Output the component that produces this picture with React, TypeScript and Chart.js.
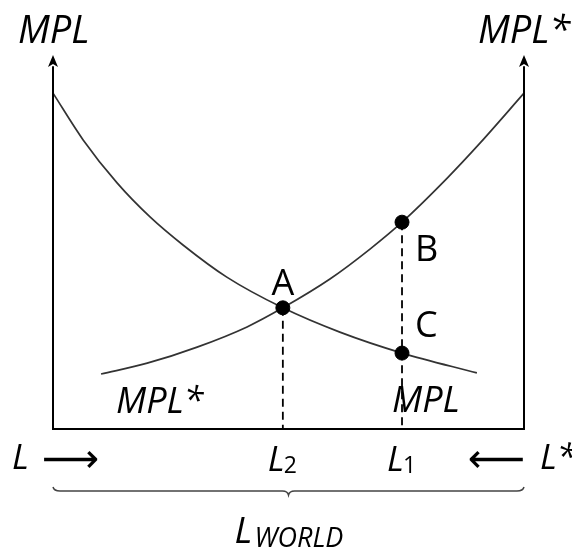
import React, { useEffect, useRef } from "react";
import { Chart, registerables } from "chart.js";

Chart.register(...registerables);

// Labour axis runs from L (left origin) to L* (right origin)
const L_MIN = 0;
const L_MAX = 10;
const Y_MAX = 10;

// Home MPL curve (falls as L rises)
const mplX = [0, 0.64, 1.36, 2.06, 2.76, 3.69, 4.88, 6.09, 7.41, 9.0];
const mplY = [8.98, 7.73, 6.58, 5.67, 4.92, 4.06, 3.24, 2.59, 2.03, 1.5];

// Foreign MPL* curve (rises as L rises, i.e. as L* falls)
const mplStarX = [1.02, 2.0, 3.06, 4.12, 4.88, 5.88, 6.73, 7.41, 8.37, 9.07, 10];
const mplStarY = [1.47, 1.76, 2.19, 2.73, 3.24, 4.01, 4.81, 5.53, 6.71, 7.65, 8.98];

// Marked points
const pointNames = ["A", "B", "C"];
const pointX = [4.88, 7.41, 7.41];
const pointY = [3.24, 5.53, 2.03];

// Allocations
const L2 = 4.88;
const L1 = 7.41;

const FONT = '"Open Sans", "DejaVu Sans", sans-serif';

const labelPlugin = {
  id: "diagramLabels",
  afterDatasetsDraw(chart: any) {
    const { ctx, chartArea: ca, scales } = chart;
    const x = scales.x;
    const y = scales.y;
    const it = (s: number) => `italic ${s}px ${FONT}`;
    const up = (s: number) => `${s}px ${FONT}`;
    ctx.save();
    ctx.fillStyle = "#000";
    ctx.strokeStyle = "#000";
    ctx.textBaseline = "alphabetic";

    // axis arrowheads
    for (const v of [L_MIN, L_MAX]) {
      const px = x.getPixelForValue(v);
      const py = y.getPixelForValue(Y_MAX);
      ctx.beginPath();
      ctx.moveTo(px, py);
      ctx.lineTo(px - 5, py + 12);
      ctx.lineTo(px, py + 9);
      ctx.lineTo(px + 5, py + 12);
      ctx.closePath();
      ctx.fill();
    }

    // top axis titles
    ctx.font = it(38);
    ctx.textAlign = "left";
    ctx.fillText("MPL", ca.left - 35, ca.top - 12);
    ctx.fillText("MPL*", ca.right - 46, ca.top - 12);

    // point labels
    const ax = x.getPixelForValue(pointX[0]);
    const ay = y.getPixelForValue(pointY[0]);
    ctx.textAlign = "center";
    ctx.font = up(36);
    ctx.fillText(pointNames[0], ax, ay - 13);
    ctx.textAlign = "left";
    ctx.fillText(pointNames[1], x.getPixelForValue(pointX[1]) + 13, y.getPixelForValue(pointY[1]) + 39);
    ctx.fillText(pointNames[2], x.getPixelForValue(pointX[2]) + 13, y.getPixelForValue(pointY[2]) - 16);

    // curve labels
    ctx.font = it(36);
    ctx.fillText("MPL*", ca.left + 63, ca.bottom - 16);
    ctx.fillText("MPL", x.getPixelForValue(L1) - 10, ca.bottom - 17);

    // bottom axis labels
    const base = ca.bottom + 40;
    ctx.font = it(35);
    ctx.fillText("L", ca.left - 41, base);
    ctx.fillText("L*", ca.right + 16, base);
    ctx.font = `40px "DejaVu Sans", sans-serif`;
    ctx.textAlign = "left";
    ctx.fillText("\u27F6", ca.left - 11, base + 3);
    ctx.textAlign = "right";
    ctx.fillText("\u27F5", ca.right + 1, base + 3);
    ctx.textAlign = "left";

    const subLabel = (v: number, sub: string) => {
      const px = x.getPixelForValue(v);
      ctx.font = it(35);
      ctx.fillText("L", px - 15, base + 2);
      ctx.font = up(23);
      ctx.fillText(sub, px + 1, base + 4);
    };
    subLabel(L2, "2");
    subLabel(L1, "1");

    // brace under the axis
    const by = ca.bottom + 62;
    const mid = (ca.left + ca.right) / 2;
    ctx.strokeStyle = "#444";
    ctx.lineWidth = 1.5;
    ctx.beginPath();
    ctx.moveTo(ca.left, by - 4);
    ctx.quadraticCurveTo(ca.left + 1, by, ca.left + 7, by);
    ctx.lineTo(mid - 6, by);
    ctx.quadraticCurveTo(mid - 1, by, mid, by + 4);
    ctx.quadraticCurveTo(mid + 1, by, mid + 6, by);
    ctx.lineTo(ca.right - 7, by);
    ctx.quadraticCurveTo(ca.right - 1, by, ca.right, by - 4);
    ctx.stroke();

    // L_WORLD
    ctx.font = it(37);
    ctx.fillText("L", mid - 54, ca.bottom + 114);
    ctx.font = it(27);
    ctx.fillText("WORLD", mid - 34, ca.bottom + 118);

    ctx.restore();
  },
};

export default function App() {
  const ref = useRef<HTMLCanvasElement | null>(null);

  useEffect(() => {
    if (!ref.current) return;
    const curveColor = "#333";
    const chart = new Chart(ref.current, {
      type: "scatter",
      data: {
        datasets: [
          {
            label: "points",
            data: pointX.map((v, i) => ({ x: v, y: pointY[i] })),
            pointRadius: 7,
            pointBackgroundColor: "#000",
            pointBorderColor: "#000",
            showLine: false,
            clip: false,
            order: 0,
          },
          {
            label: "MPL",
            data: mplX.map((v, i) => ({ x: v, y: mplY[i] })),
            showLine: true,
            borderColor: curveColor,
            borderWidth: 1.7,
            pointRadius: 0,
            cubicInterpolationMode: "monotone",
            clip: false,
            order: 2,
          },
          {
            label: "MPL*",
            data: mplStarX.map((v, i) => ({ x: v, y: mplStarY[i] })),
            showLine: true,
            borderColor: curveColor,
            borderWidth: 1.7,
            pointRadius: 0,
            cubicInterpolationMode: "monotone",
            clip: false,
            order: 2,
          },
          {
            label: "drop A",
            data: [
              { x: L2, y: pointY[0] },
              { x: L2, y: 0 },
            ],
            showLine: true,
            borderColor: "#000",
            borderWidth: 1.8,
            borderDash: [8, 5],
            pointRadius: 0,
            clip: false,
            order: 3,
          },
          {
            label: "drop B",
            data: [
              { x: L1, y: pointY[1] },
              { x: L1, y: 0 },
            ],
            showLine: true,
            borderColor: "#000",
            borderWidth: 1.8,
            borderDash: [8, 5],
            pointRadius: 0,
            clip: false,
            order: 3,
          },
          {
            label: "axes",
            data: [
              { x: L_MIN, y: Y_MAX * 0.97 },
              { x: L_MIN, y: 0 },
              { x: L_MAX, y: 0 },
              { x: L_MAX, y: Y_MAX * 0.97 },
            ],
            showLine: true,
            borderColor: "#000",
            borderWidth: 2,
            pointRadius: 0,
            clip: false,
            order: 1,
          },
        ],
      },
      options: {
        responsive: false,
        animation: false,
        devicePixelRatio: 1,
        layout: { padding: { left: 53, right: 48, top: 55, bottom: 123 } },
        scales: {
          x: { type: "linear", min: L_MIN, max: L_MAX, display: false },
          y: { type: "linear", min: 0, max: Y_MAX, display: false },
        },
        plugins: {
          legend: { display: false },
          tooltip: { enabled: false },
        },
      },
      plugins: [labelPlugin],
    } as any);
    return () => chart.destroy();
  }, []);

  return (
    <div style={{ position: "absolute", left: 0, top: 0, width: 572, height: 552, background: "#fff" }}>
      <canvas ref={ref} width={572} height={552} style={{ display: "block" }} />
    </div>
  );
}
